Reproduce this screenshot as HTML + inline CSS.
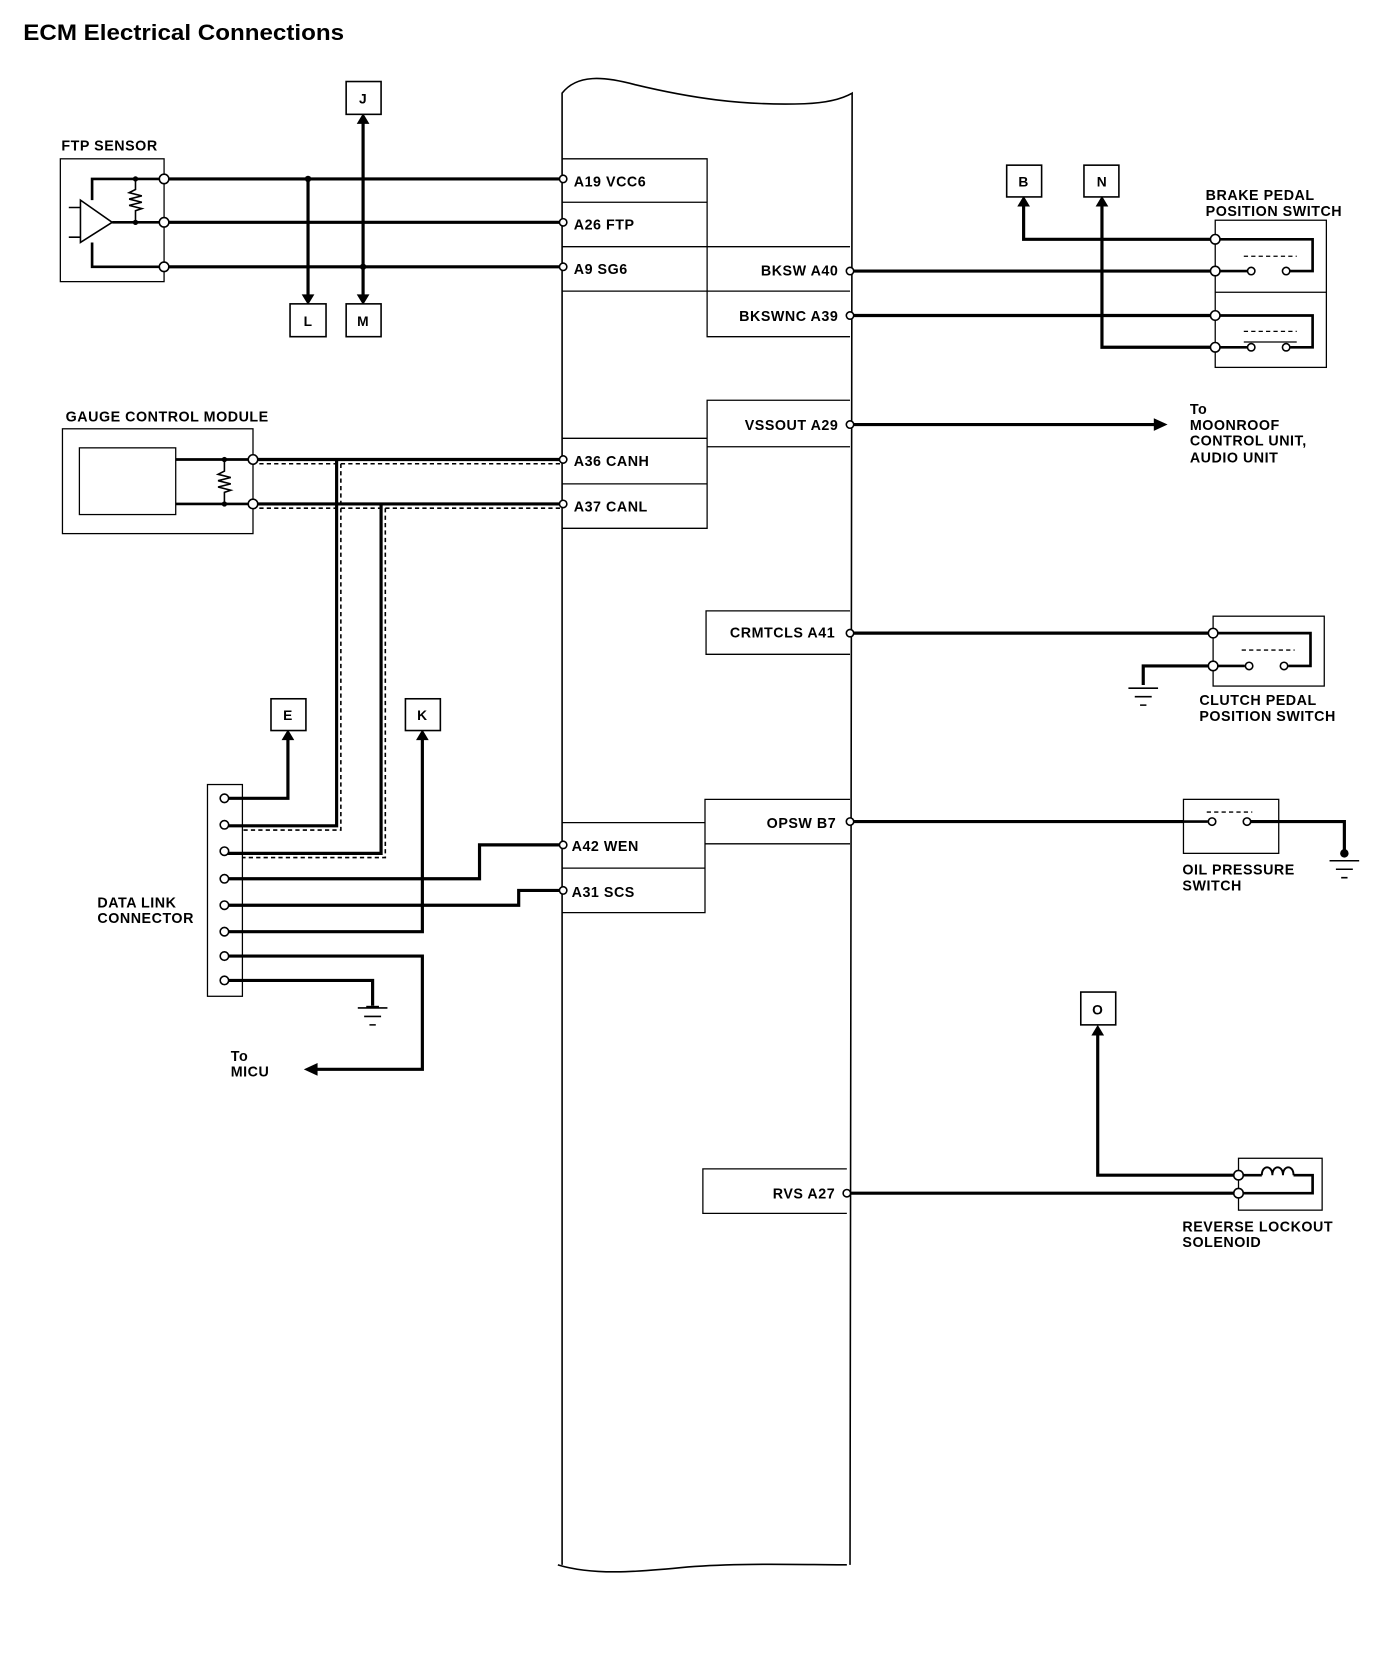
<!DOCTYPE html>
<html><head><meta charset="utf-8"><style>
html,body{margin:0;padding:0;background:#fff;}
svg{display:block;}
text{font-family:"Liberation Sans",sans-serif;font-weight:bold;fill:#000;letter-spacing:0.5px;}
</style></head><body>
<svg width="1392" height="1658" viewBox="0 0 1315 1566" preserveAspectRatio="none" xmlns="http://www.w3.org/2000/svg">
<text x="22" y="38" font-size="21" textLength="303" lengthAdjust="spacingAndGlyphs" style="letter-spacing:0">ECM Electrical Connections</text>

<!-- ECM body -->
<g fill="none" stroke="#000" stroke-width="1.5">
<path d="M531,1478 L531,88 C545,70 570,72 600,80 C650,92 700,100 760,98 C785,97 798,92 805,88 L803,1478"/>
<path d="M527,1478 C560,1488 600,1485 650,1480 C700,1476 760,1478 800,1478"/>
</g>
<!-- pin boxes -->
<g fill="none" stroke="#000" stroke-width="1.2">
<path d="M531,150H668V318H803 M531,191H668 M531,233H803 M531,275H803"/>
<path d="M803,378H668V499H531 M668,422H803 M531,414H668 M531,457H668"/>
<path d="M803,577H667V618H803"/>
<path d="M803,755H666V862H531 M666,797H803 M531,777H666 M531,820H666"/>
<path d="M800,1104H664V1146H800"/>
</g>
<g font-size="13.5">
<text x="542" y="176">A19 VCC6</text>
<text x="542" y="217">A26 FTP</text>
<text x="542" y="259">A9 SG6</text>
<text x="792" y="260" text-anchor="end">BKSW A40</text>
<text x="792" y="303" text-anchor="end">BKSWNC A39</text>
<text x="792" y="406" text-anchor="end">VSSOUT A29</text>
<text x="542" y="440">A36 CANH</text>
<text x="542" y="483">A37 CANL</text>
<text x="789" y="602" text-anchor="end">CRMTCLS A41</text>
<text x="790" y="782" text-anchor="end">OPSW B7</text>
<text x="540" y="804">A42 WEN</text>
<text x="540" y="847">A31 SCS</text>
<text x="789" y="1132" text-anchor="end">RVS A27</text>
</g>

<!-- wires -->
<g fill="none" stroke="#000" stroke-width="3">
<path d="M155,169H532 M155,210H532 M155,252H532"/>
<path d="M291,169V282 M343,252V282 M343,252V113"/>
<path d="M803,256H1148 M803,298H1148"/>
<path d="M967,191V226H1148 M1041,191V328H1148"/>
<path d="M803,401H1092"/>
<path d="M239,434H532 M239,476H532"/>
<path d="M318,434V780H212 M360,476V806H212"/>
<path d="M212,754H272V695 M212,830H453V798H532 M212,855H490V841H532 M212,880H399V695 M212,903H399V1010H297 M212,926H352V950"/>
<path d="M803,598H1146 M1146,629H1080V647"/>
<path d="M803,776H1118 M1178,776H1270V805"/>
<path d="M800,1127H1170 M1170,1110H1037V973"/>
</g>
<!-- arrowheads -->
<g fill="#000">
<path d="M285,278H297L291,288Z M337,278H349L343,288Z M337,117H349L343,107Z"/>
<path d="M961,195H973L967,185Z M1035,195H1047L1041,185Z"/>
<path d="M1090,395V407L1103,401Z"/>
<path d="M266,699H278L272,689Z M393,699H405L399,689Z M300,1004V1016L287,1010Z"/>
<path d="M1031,978H1043L1037,968Z"/>
</g>
<!-- dashed shields -->
<g fill="none" stroke="#000" stroke-width="1.5" stroke-dasharray="4,3">
<path d="M245,438H532 M322,438V784H229 M245,480H532 M364,480V810H229"/>
</g>

<!-- FTP sensor -->
<text x="58" y="142" font-size="13.5">FTP SENSOR</text>
<g fill="none" stroke="#000">
<rect x="57" y="150" width="98" height="116" stroke-width="1.2"/>
<path d="M155,169H87V189 M87,229V252H155 M106,210H155" stroke-width="2.5"/>
<path d="M76,189V229L106,210Z" stroke-width="1.5"/>
<path d="M65,196H76 M65,224H76" stroke-width="1.5"/>
<path d="M128,169V179 L122,182 L134,185 L122,188 L134,191 L122,194 L134,197 L128,199 V210" stroke-width="1.5"/>
</g>
<circle cx="128" cy="169" r="2.5"/><circle cx="128" cy="210" r="2.5"/>
<circle cx="291" cy="169" r="3"/><circle cx="343" cy="252" r="3"/>

<!-- letter boxes -->
<g fill="#fff" stroke="#000" stroke-width="1.5">
<rect x="327" y="77" width="33" height="31"/>
<rect x="274" y="287" width="34" height="31"/>
<rect x="327" y="287" width="33" height="31"/>
<rect x="951" y="156" width="33" height="30"/>
<rect x="1024" y="156" width="33" height="30"/>
<rect x="256" y="660" width="33" height="30"/>
<rect x="383" y="660" width="33" height="30"/>
<rect x="1021" y="937" width="33" height="31"/>
</g>
<g font-size="13" text-anchor="middle">
<text x="343" y="98">J</text><text x="291" y="308">L</text><text x="343" y="308">M</text>
<text x="967" y="176">B</text><text x="1041" y="176">N</text>
<text x="272" y="680">E</text><text x="399" y="680">K</text><text x="1037" y="958">O</text>
</g>

<!-- Brake switch -->
<text x="1139" y="189" font-size="13.5">BRAKE PEDAL</text>
<text x="1139" y="204" font-size="13.5">POSITION SWITCH</text>
<g fill="none" stroke="#000">
<rect x="1148" y="208" width="105" height="139" stroke-width="1.2"/>
<path d="M1148,276H1253" stroke-width="1.2"/>
<path d="M1148,226H1240V256H1219 M1148,256H1178" stroke-width="2.5"/>
<path d="M1148,298H1240V328H1219 M1148,328H1178" stroke-width="2.5"/>
<path d="M1175,242H1225 M1175,313H1225" stroke-width="1.2" stroke-dasharray="4,3"/>
<path d="M1175,323H1225" stroke-width="1.2"/>
<circle cx="1182" cy="256" r="3.5" fill="#fff" stroke-width="1.5"/><circle cx="1215" cy="256" r="3.5" fill="#fff" stroke-width="1.5"/>
<circle cx="1182" cy="328" r="3.5" fill="#fff" stroke-width="1.5"/><circle cx="1215" cy="328" r="3.5" fill="#fff" stroke-width="1.5"/>
</g>

<g font-size="13.5">
<text x="1124" y="391">To</text>
<text x="1124" y="406">MOONROOF</text>
<text x="1124" y="421">CONTROL UNIT,</text>
<text x="1124" y="437">AUDIO UNIT</text>
</g>

<!-- Gauge control module -->
<text x="62" y="398" font-size="13.5">GAUGE CONTROL MODULE</text>
<g fill="none" stroke="#000">
<rect x="59" y="405" width="180" height="99" stroke-width="1.2"/>
<rect x="75" y="423" width="91" height="63" stroke-width="1.2"/>
<path d="M166,434H239 M166,476H239" stroke-width="2.5"/>
<path d="M212,434V445 L206,448 L218,451 L206,454 L218,457 L206,460 L218,463 L212,465 V476" stroke-width="1.5"/>
</g>
<circle cx="212" cy="434" r="2.5"/><circle cx="212" cy="476" r="2.5"/>

<!-- DLC -->
<rect x="196" y="741" width="33" height="200" fill="none" stroke="#000" stroke-width="1.2"/>
<g font-size="13.5">
<text x="92" y="857">DATA LINK</text>
<text x="92" y="872">CONNECTOR</text>
<text x="218" y="1002">To</text>
<text x="218" y="1017">MICU</text>
</g>
<g fill="none" stroke="#000" stroke-width="1.5">
<path d="M338,952H366 M344,960H360 M349,968H355"/>
<path d="M1066,650H1094 M1072,658H1088 M1077,666H1083"/>
<path d="M1256,813H1284 M1262,821H1278 M1267,829H1273"/>
</g>
<circle cx="1270" cy="806" r="4"/>
<path d="M346,950H358V952H346Z"/>

<!-- Clutch switch -->
<g fill="none" stroke="#000">
<rect x="1146" y="582" width="105" height="66" stroke-width="1.2"/>
<path d="M1146,598H1238V629H1217 M1146,629H1176" stroke-width="2.5"/>
<path d="M1173,614H1223" stroke-width="1.2" stroke-dasharray="4,3"/>
<circle cx="1180" cy="629" r="3.5" fill="#fff" stroke-width="1.5"/><circle cx="1213" cy="629" r="3.5" fill="#fff" stroke-width="1.5"/>
</g>
<text x="1133" y="666" font-size="13.5">CLUTCH PEDAL</text>
<text x="1133" y="681" font-size="13.5">POSITION SWITCH</text>

<!-- Oil pressure -->
<g fill="none" stroke="#000">
<rect x="1118" y="755" width="90" height="51" stroke-width="1.2"/>
<path d="M1118,776H1141" stroke-width="2.5"/>
<path d="M1140,767H1183" stroke-width="1.2" stroke-dasharray="4,3"/>
<circle cx="1145" cy="776" r="3.5" fill="#fff" stroke-width="1.5"/><circle cx="1178" cy="776" r="3.5" fill="#fff" stroke-width="1.5"/>
</g>
<text x="1117" y="826" font-size="13.5">OIL PRESSURE</text>
<text x="1117" y="841" font-size="13.5">SWITCH</text>

<!-- Reverse solenoid -->
<g fill="none" stroke="#000">
<rect x="1170" y="1094" width="79" height="49" stroke-width="1.2"/>
<path d="M1170,1110H1192 M1222,1110H1240V1127H1170" stroke-width="2.5"/>
<path d="M1192,1110 C1192,1100 1202,1100 1202,1110 C1202,1100 1212,1100 1212,1110 C1212,1100 1222,1100 1222,1110" stroke-width="1.8"/>
</g>
<text x="1117" y="1163" font-size="13.5">REVERSE LOCKOUT</text>
<text x="1117" y="1178" font-size="13.5">SOLENOID</text>

<!-- pin circles -->
<g fill="#fff" stroke="#000" stroke-width="1.5">
<circle cx="155" cy="169" r="4.5"/><circle cx="155" cy="210" r="4.5"/><circle cx="155" cy="252" r="4.5"/>
<circle cx="532" cy="169" r="3.5"/><circle cx="532" cy="210" r="3.5"/><circle cx="532" cy="252" r="3.5"/>
<circle cx="803" cy="256" r="3.5"/><circle cx="803" cy="298" r="3.5"/><circle cx="803" cy="401" r="3.5"/>
<circle cx="532" cy="434" r="3.5"/><circle cx="532" cy="476" r="3.5"/>
<circle cx="803" cy="598" r="3.5"/><circle cx="803" cy="776" r="3.5"/>
<circle cx="532" cy="798" r="3.5"/><circle cx="532" cy="841" r="3.5"/>
<circle cx="800" cy="1127" r="3.5"/>
<circle cx="239" cy="434" r="4.5"/><circle cx="239" cy="476" r="4.5"/>
<circle cx="212" cy="754" r="4"/><circle cx="212" cy="779" r="4"/><circle cx="212" cy="804" r="4"/><circle cx="212" cy="830" r="4"/>
<circle cx="212" cy="855" r="4"/><circle cx="212" cy="880" r="4"/><circle cx="212" cy="903" r="4"/><circle cx="212" cy="926" r="4"/>
<circle cx="1148" cy="226" r="4.5"/><circle cx="1148" cy="256" r="4.5"/><circle cx="1148" cy="298" r="4.5"/><circle cx="1148" cy="328" r="4.5"/>
<circle cx="1146" cy="598" r="4.5"/><circle cx="1146" cy="629" r="4.5"/>
<circle cx="1170" cy="1110" r="4.5"/><circle cx="1170" cy="1127" r="4.5"/>
</g>
</svg>
</body></html>
